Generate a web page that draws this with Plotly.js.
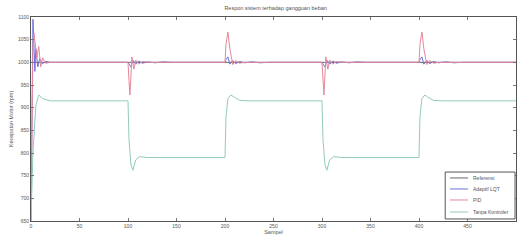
<!DOCTYPE html>
<html><head><meta charset="utf-8">
<script src="https://cdn.plot.ly/plotly-3.0.1.min.js"></script>
<style>html,body{margin:0;padding:0;background:#fff}#c{width:520px;height:244px}</style>
</head><body><div id="c"></div>
<script>
const refX = [0, 500];
const refY = [1000, 1000];

const lqtX = [0, 1, 2, 3, 4, 5, 7, 9, 12, 15, 20, 100, 101, 103, 105, 108, 111, 115, 120, 128, 136, 145, 200, 201, 203, 205, 208, 211, 215, 220, 228, 236, 245, 300, 301, 303, 305, 308, 311, 315, 320, 328, 336, 345, 400, 401, 403, 405, 408, 411, 415, 420, 428, 436, 445, 500];
const lqtY = [650, 1000, 1095, 1040, 980, 1030, 990, 1008, 997, 1002, 1000, 1000, 996, 990, 1005, 996, 1003, 998, 1001, 999, 1001, 1000, 1000, 1006, 1012, 996, 1004, 997, 1002, 999, 1001, 999, 1000, 1000, 996, 990, 1005, 996, 1003, 998, 1001, 999, 1001, 1000, 1000, 1006, 1012, 996, 1004, 997, 1002, 999, 1001, 999, 1000, 1000];

const pidX = [0, 1, 2, 3, 4, 6, 8, 10, 12, 15, 20, 100, 101, 102, 104, 106, 108, 111, 115, 120, 200, 201, 203, 205, 208, 211, 215, 220, 300, 301, 302, 304, 306, 308, 311, 315, 320, 400, 401, 403, 405, 408, 411, 415, 420, 500];
const pidY = [650, 900, 1040, 1065, 1050, 1010, 1035, 990, 1010, 998, 1000, 1000, 960, 928, 1012, 985, 1005, 996, 1002, 1000, 1000, 1040, 1067, 1030, 995, 1004, 998, 1000, 1000, 960, 928, 1012, 985, 1005, 996, 1002, 1000, 1000, 1040, 1067, 1030, 995, 1004, 998, 1000, 1000];

const noCtrlX = [0, 2, 5, 8, 12, 20, 100, 101, 103, 105, 108, 112, 120, 200, 201, 203, 206, 210, 215, 225, 300, 301, 303, 305, 308, 312, 320, 400, 401, 403, 406, 410, 415, 425, 500];
const noCtrlY = [650, 800, 905, 928, 920, 915, 915, 830, 775, 762, 785, 792, 790, 790, 880, 920, 928, 922, 916, 915, 915, 830, 775, 762, 785, 792, 790, 790, 880, 920, 928, 922, 916, 915, 915];

const seriesNames = ["Referensi", "Adaptif LQT", "PID", "Tanpa Kontroler"];
const seriesColors = ["#666666", "#6f6fd8", "#e5889a", "#93cbb8"];
const xTicks = [0, 50, 100, 150, 200, 250, 300, 350, 400, 450, 500];
const yTicks = [650, 700, 750, 800, 850, 900, 950, 1000, 1050, 1100];

const data = [[refX, refY], [lqtX, lqtY], [pidX, pidY], [noCtrlX, noCtrlY]];
const traces = data.map((d, i) => ({
  type: "scatter", mode: "lines", x: d[0], y: d[1], name: seriesNames[i],
  line: {color: seriesColors[i], width: 1}, showlegend: false
}));

const font = {family: "Liberation Sans, Arial", size: 5.5, color: "#555"};
const axisBase = {
  showline: true, linecolor: "#555", linewidth: 1, mirror: "ticks",
  ticks: "inside", ticklen: 3, tickcolor: "#777", showgrid: false, zeroline: false,
  tickfont: {family: "Liberation Sans, Arial", size: 5, color: "#555"}
};

// compact legend box (MATLAB style) drawn in paper coordinates
const legX0 = 0.854, legX1 = 0.998, legY0 = 0.010, legY1 = 0.240;
const rowY = [0.211, 0.157, 0.103, 0.044];
const shapes = [{type: "rect", xref: "paper", yref: "paper", x0: legX0, x1: legX1, y0: legY0, y1: legY1,
  line: {color: "#555", width: 1}, fillcolor: "#fff", layer: "above"}];
const annotations = [];
seriesNames.forEach((n, i) => {
  shapes.push({type: "line", xref: "paper", yref: "paper", x0: 0.864, x1: 0.901, y0: rowY[i], y1: rowY[i],
    line: {color: seriesColors[i], width: 1}, layer: "above"});
  annotations.push({xref: "paper", yref: "paper", x: 0.907, y: rowY[i], xanchor: "left", yanchor: "middle",
    text: n, showarrow: false, font: {family: "Liberation Sans, Arial", size: 5, color: "#555"}});
});

const layout = {
  width: 520, height: 244,
  margin: {l: 31, r: 4, t: 17, b: 23},
  paper_bgcolor: "#fff", plot_bgcolor: "#fff",
  title: {text: "Respon sistem terhadap gangguan beban", font: font, x: 0.53, xanchor: "center", y: 0.975, yanchor: "top"},
  xaxis: Object.assign({}, axisBase, {range: [0, 500], tickvals: xTicks, title: {text: "Sampel", font: font, standoff: 2}}),
  yaxis: Object.assign({}, axisBase, {range: [650, 1100], tickvals: yTicks, title: {text: "Kecepatan Motor (rpm)", font: font, standoff: 3}}),
  showlegend: false,
  shapes: shapes,
  annotations: annotations
};

Plotly.newPlot("c", traces, layout, {displayModeBar: false, staticPlot: true});
</script>
</body></html>
